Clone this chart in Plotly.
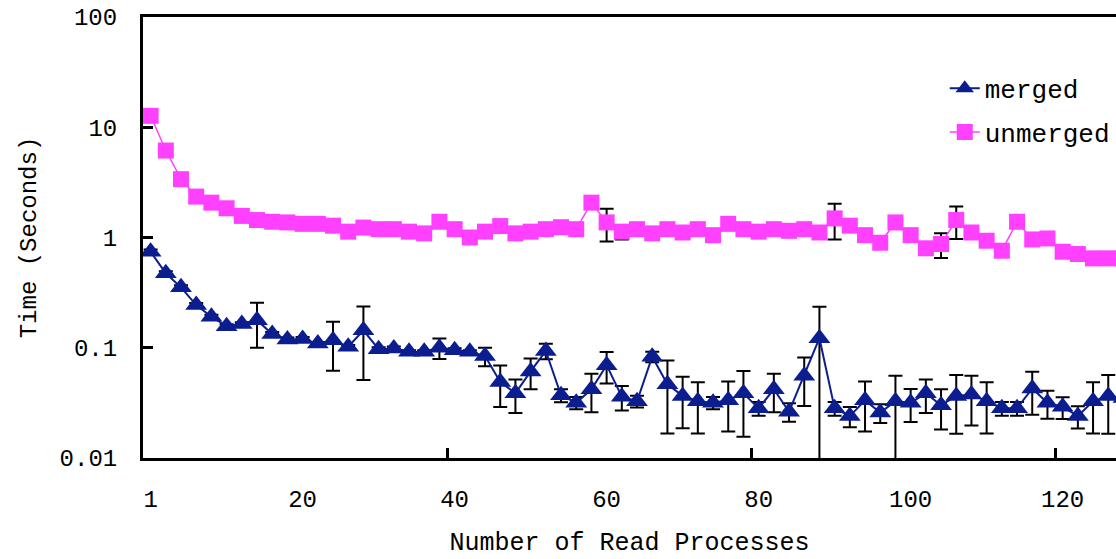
import plotly.graph_objects as go

# Number of read processes (category axis: 1, 2, 4, ..., 128)
processes = [1] + list(range(2, 129, 2))

merged = [0.743, 0.473, 0.353, 0.244, 0.191, 0.157, 0.164, 0.178, 0.133, 0.119,
          0.120, 0.109, 0.117, 0.102, 0.144, 0.097, 0.0986, 0.092, 0.092, 0.100,
          0.095, 0.092, 0.084, 0.049, 0.0386, 0.061, 0.0935, 0.037, 0.0317, 0.042,
          0.0695, 0.036, 0.0327, 0.083, 0.0467, 0.0366, 0.0327, 0.0317, 0.0334, 0.0386,
          0.0282, 0.042, 0.0263, 0.0556, 0.122, 0.0282, 0.024, 0.0334, 0.0258, 0.0327,
          0.0317, 0.0386, 0.0301, 0.0366, 0.0377, 0.0327, 0.0282, 0.0282, 0.0427, 0.0317,
          0.0291, 0.024, 0.0327, 0.0366, 0.035]
merged_err = [0.035, 0.02, 0.015, 0.01, 0.008, 0.006, 0.006, 0.078, 0.006, 0.005,
              0.005, 0.004, 0.055, 0.004, 0.093, 0.004, 0.004, 0.003, 0.003, 0.021,
              0.004, 0.003, 0.016, 0.02, 0.013, 0.019, 0.015, 0.005, 0.004, 0.016,
              0.022, 0.009, 0.004, 0.009, 0.03, 0.018, 0.016, 0.004, 0.016, 0.023,
              0.004, 0.016, 0.005, 0.026, 0.113, 0.004, 0.005, 0.016, 0.005, 0.023,
              0.0105, 0.013, 0.012, 0.02, 0.018, 0.016, 0.004, 0.004, 0.018, 0.009,
              0.0065, 0.0055, 0.016, 0.02, 0.015]

unmerged = [12.7, 6.15, 3.38, 2.35, 2.07, 1.84, 1.57, 1.44, 1.39, 1.37,
            1.33, 1.33, 1.28, 1.13, 1.23, 1.19, 1.19, 1.13, 1.09, 1.39,
            1.19, 1.00, 1.13, 1.27, 1.09, 1.13, 1.19, 1.24, 1.19, 2.07,
            1.37, 1.13, 1.19, 1.09, 1.19, 1.11, 1.19, 1.05, 1.33, 1.19,
            1.13, 1.19, 1.15, 1.19, 1.11, 1.49, 1.28, 1.05, 0.897, 1.37,
            1.05, 0.798, 0.873, 1.44, 1.11, 0.935, 0.759, 1.39, 0.96, 0.98,
            0.743, 0.708, 0.647, 0.647, 0.64]
unmerged_err = [0.9, 0.45, 0.25, 0.15, 0.14, 0.12, 0.1, 0.09, 0.08, 0.08,
                0.08, 0.08, 0.08, 0.07, 0.08, 0.07, 0.07, 0.07, 0.07, 0.09,
                0.07, 0.06, 0.07, 0.08, 0.07, 0.07, 0.07, 0.08, 0.07, 0.13,
                0.45, 0.17, 0.07, 0.07, 0.07, 0.07, 0.07, 0.06, 0.08, 0.07,
                0.07, 0.07, 0.07, 0.07, 0.07, 0.53, 0.08, 0.06, 0.05, 0.08,
                0.06, 0.05, 0.22, 0.47, 0.07, 0.06, 0.05, 0.08, 0.06, 0.06,
                0.05, 0.04, 0.04, 0.04, 0.04]

label_every = 10
minor_tick_every = 20

pos = list(range(len(processes)))
tickvals = pos[::label_every]
ticktext = [str(processes[i]) for i in tickvals]
boundary_ticks = [i - 0.5 for i in pos[minor_tick_every::minor_tick_every]]

FONT = "Liberation Mono"
NAVY = "#0B1D8F"
MAGENTA = "#FF40FF"

fig = go.Figure()
fig.add_trace(go.Scatter(
    x=pos, y=merged, name="merged", legendgroup="m",
    mode="lines+markers",
    line=dict(color=NAVY, width=2),
    marker=dict(symbol="triangle-up", size=19, color=NAVY),
    error_y=dict(type="data", array=merged_err, color="black", thickness=2, width=7),
))
fig.add_trace(go.Scatter(
    x=pos, y=unmerged, name="unmerged", legendgroup="u",
    mode="lines+markers",
    line=dict(color=MAGENTA, width=1.5),
    marker=dict(symbol="square", size=16, color=MAGENTA),
    error_y=dict(type="data", array=unmerged_err, color="black", thickness=2, width=7),
))

fig.update_layout(
    width=1116, height=559,
    margin=dict(l=143, r=0, t=17, b=101),
    paper_bgcolor="white", plot_bgcolor="white",
    font=dict(family=FONT, color="black", size=24),
    showlegend=True,
    legend=dict(x=0.824, y=0.8915, xanchor="left", yanchor="top",
                font=dict(family=FONT, size=26), tracegroupgap=7,
                bgcolor="rgba(0,0,0,0)"),
)
fig.update_xaxes(
    range=[-0.5, 63.51], automargin=False,
    tickmode="array", tickvals=tickvals, ticktext=ticktext,
    ticks="", showgrid=False, zeroline=False,
    showline=True, linecolor="black", linewidth=3, mirror=True,
    ticklabelstandoff=17, ticklabeloverflow="allow",
    tickfont=dict(family=FONT, size=24),
    minor=dict(tickmode="array", tickvals=boundary_ticks, ticks="inside",
               ticklen=10, tickwidth=3, tickcolor="black", showgrid=False),
    title=dict(text="Number of Read Processes", font=dict(family=FONT, size=25), standoff=20),
)
fig.update_yaxes(
    type="log", range=[-2, 2], automargin=False,
    tickmode="array", tickvals=[0.01, 0.1, 1, 10, 100],
    ticktext=["0.01", "0.1", "1", "10", "100"],
    ticks="inside", ticklen=10, tickwidth=3, tickcolor="black",
    showgrid=False, zeroline=False,
    showline=True, linecolor="black", linewidth=3,
    ticklabelstandoff=18, ticklabeloverflow="allow",
    tickfont=dict(family=FONT, size=24),
    title=dict(text="Time (Seconds)", font=dict(family=FONT, size=24), standoff=17),
)

# remove the browser's default 8px body margin so the figure fills the window
fig.write_html("out.html",
               config={"displayModeBar": False},
               post_script="document.body.style.margin='0';document.body.style.overflow='hidden';")
